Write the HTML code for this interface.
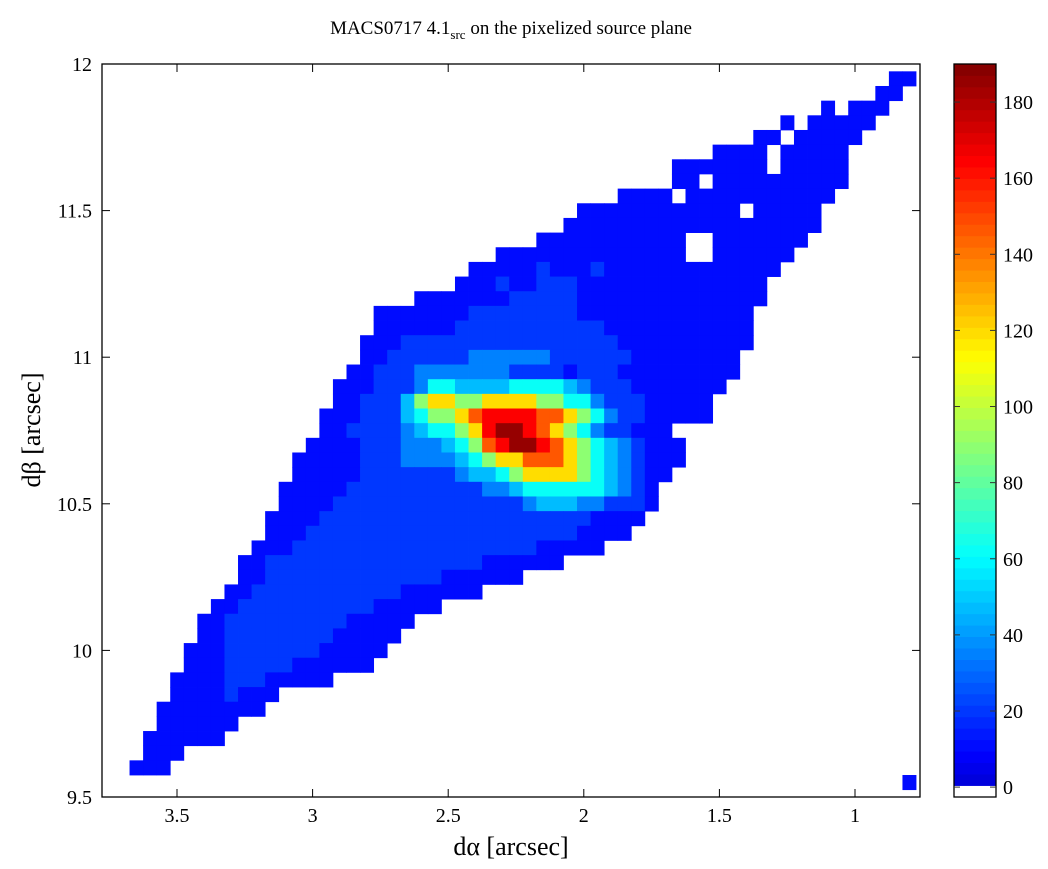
<!DOCTYPE html>
<html><head><meta charset="utf-8"><style>
html,body{margin:0;padding:0;background:#fff;}
svg{display:block;font-family:"Liberation Serif",serif;}
</style></head><body>
<svg id="chart" width="1048" height="869">
<text x="511" y="34" text-anchor="middle" font-size="19">MACS0717 4.1<tspan font-size="13" dy="5">src</tspan><tspan dy="-5"> on the pixelized source plane</tspan></text>
<g id="cells"></g>
<g id="axes"></g>
<g id="cbar"></g>
<text x="511" y="855" text-anchor="middle" font-size="26">dα [arcsec]</text>
<text transform="translate(40,430) rotate(-90)" text-anchor="middle" font-size="26">dβ [arcsec]</text>
</svg>
<script>
const gridAlpha0 = 3.65;
const gridBeta0 = 11.95;
const gridStep = 0.05;
const levelValues = [0,12,20,35,48,62,88,118,145,165,185];
const rowStart = [56,55,51,48,46,43,40,40,36,33,32,30,27,25,24,21,18,18,17,17,16,15,15,14,14,13,12,12,11,11,10,10,9,8,8,7,6,5,5,4,4,3,3,2,2,1,1,0,57];
const rowVals = [
"11","11","1.111","1.11111","11.11111","1111.11111","1111111.11111","11.1111111111",
"1111.11111111111","111111111111.11111","1111111111111111111","11111111111..1111111",
"11111111111111..111111","11111211121111111111111","11121122211111111111111",
"11111112222211111111111111","1111111222222221111111111111","1111112222222222211111111111",
"11122222222222222221111111111","1122222233333322222211111111",
"11222333333322221222111111111",
"11122235544445555432221111111",
"1122246776677776655322211111",
"11122245667899998876532211111",
"1122223455679aa98765322111",
"111122233345689aa98765432111",
"11111222333345677888765432111",
"1111122222223445677776543211",
"1111122222222223345555554321",
"1111222222222222223444332221",
"1111222222222222222222221111",
"111222222222222222222221111",
"11122222222222222222211111",
"112222222222222222111111",
"112222222222222111111",
"1122222222222111111",
"11222222222211111",
"1122222222211111",
"112222222211111",
"111222222211111",
"11122222111111",
"111122211111",
"11112111","11111111","111111","111111","111","111","1"
];
const xTicks = [3.5,3,2.5,2,1.5,1];
const xTickLabels = ["3.5","3","2.5","2","1.5","1"];
const yTicks = [9.5,10,10.5,11,11.5,12];
const yTickLabels = ["9.5","10","10.5","11","11.5","12"];
const cbTicks = [0,20,40,60,80,100,120,140,160,180];
const cMin = -2.6, cMax = 190, nBands = 64;

const PL=102, PR=920, PT=64, PB=797;
function xs(a){ return 177 + (3.5 - a) * 271.2; }
function ys(b){ return 64 + (12 - b) * 293.2; }
function jet(v){
  const c=t=>Math.max(0,Math.min(1,t));
  return [c(1.5-Math.abs(4*v-3)),c(1.5-Math.abs(4*v-2)),c(1.5-Math.abs(4*v-1))];
}
function colorFor(val){
  let k=Math.floor((val-cMin)/(cMax-cMin)*nBands); k=Math.max(0,Math.min(nBands-1,k));
  if(k===0) return "#ffffff";
  const t=(k+0.5)/nBands; const v=0.07+0.93*t; const [r,g,b]=jet(v);
  return `rgb(${Math.round(r*255)},${Math.round(g*255)},${Math.round(b*255)})`;
}
const NS="http://www.w3.org/2000/svg";
function mk(tag,attrs,parent){const e=document.createElementNS(NS,tag);for(const k in attrs)e.setAttribute(k,attrs[k]);parent.appendChild(e);return e;}
const cells=document.getElementById('cells');
rowVals.forEach((s,r)=>{
  for(let i=0;i<s.length;i++){
    const ch=s[i]; if(ch==='.') continue;
    const lvl=parseInt(ch,16);
    const a=gridAlpha0-gridStep*(rowStart[r]+i), b=gridBeta0-gridStep*r;
    const x0=xs(a+gridStep/2), x1=xs(a-gridStep/2), y0=ys(b+gridStep/2), y1=ys(b-gridStep/2);
    const el=mk('rect',{x:x0.toFixed(2),y:y0.toFixed(2),width:(x1-x0+0.4).toFixed(2),height:(y1-y0+0.4).toFixed(2),fill:colorFor(levelValues[lvl])},cells);
    
    
  }
});
const axes=document.getElementById('axes');
const box=mk('rect',{x:PL,y:PT,width:PR-PL,height:PB-PT,fill:'none',stroke:'#000','stroke-width':1.3},axes);


xTicks.forEach((t,i)=>{
  const x=xs(t);
  mk('line',{x1:x,y1:PB,x2:x,y2:PB-8,stroke:'#000'},axes);
  mk('line',{x1:x,y1:PT,x2:x,y2:PT+8,stroke:'#000'},axes);
  const tx=mk('text',{x:x,y:PB+25,'text-anchor':'middle','font-size':20},axes);
  tx.textContent=xTickLabels[i];
  
  
});
yTicks.forEach((t,i)=>{
  const y=ys(t);
  mk('line',{x1:PL,y1:y,x2:PL+8,y2:y,stroke:'#000'},axes);
  mk('line',{x1:PR,y1:y,x2:PR-8,y2:y,stroke:'#000'},axes);
  const tx=mk('text',{x:PL-10,y:y+7,'text-anchor':'end','font-size':20},axes);
  tx.textContent=yTickLabels[i];
  
  
});
const cb=document.getElementById('cbar');
const CL=954, CR=996, CT=64, CB=797;
function cy(v){ return CB - (v-cMin)/(cMax-cMin)*(CB-CT); }
for(let k=0;k<nBands;k++){
  const v0=cMin+(cMax-cMin)*k/nBands, v1=cMin+(cMax-cMin)*(k+1)/nBands;
  const el=mk('rect',{x:CL,y:cy(v1).toFixed(2),width:CR-CL,height:(cy(v0)-cy(v1)+0.4).toFixed(2),fill:colorFor((v0+v1)/2)},cb);
  
  
}
mk('rect',{x:CL,y:CT,width:CR-CL,height:CB-CT,fill:'none',stroke:'#000','stroke-width':1.3},cb);
cbTicks.forEach(t=>{
  const y=cy(t);
  mk('line',{x1:CL,y1:y,x2:CL+6,y2:y,stroke:'#333'},cb);
  mk('line',{x1:CR,y1:y,x2:CR-6,y2:y,stroke:'#333'},cb);
  const tx=mk('text',{x:CR+7,y:y+7,'font-size':20},cb);
  tx.textContent=String(t);
  
  
});
</script>
</body></html>
